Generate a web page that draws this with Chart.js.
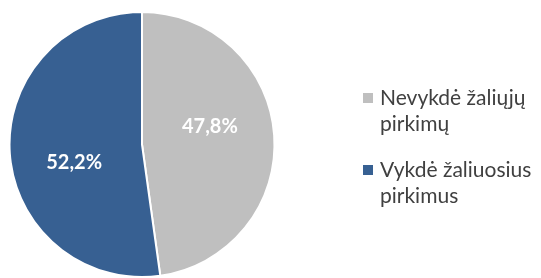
<!DOCTYPE html>
<html>
<head>
<meta charset="utf-8">
<script src="https://cdn.jsdelivr.net/npm/chart.js@4"></script>
<style>
  html, body { margin: 0; padding: 0; background: #fff; }
  #wrap { width: 541px; height: 278px; position: relative; }
</style>
</head>
<body>
<div id="wrap"><canvas id="myChart"></canvas></div>
<script>
const categories = ['Nevykdė žaliųjų pirkimų', 'Vykdė žaliuosius pirkimus']
const shares = [47.8, 52.2]
const sliceColors = ['#BFBFBF', '#376092']

// percent labels inside the slices
const sliceLabels = {
  id: 'sliceLabels',
  afterDatasetsDraw(chart) {
    const c = chart.ctx
    const meta = chart.getDatasetMeta(0)
    c.save()
    c.font = 'bold 20px Lato, "Open Sans", sans-serif'
    c.fillStyle = '#ffffff'
    c.textAlign = 'center'
    c.textBaseline = 'middle'
    meta.data.forEach((arc, i) => {
      // excel puts the labels a bit counter-clockwise of the slice middle
      const mid = (arc.startAngle + arc.endAngle) / 2 - 0.19
      const r = arc.outerRadius * 0.53
      const x = arc.x + Math.cos(mid) * r
      const y = arc.y + Math.sin(mid) * r
      c.fillText(shares[i].toFixed(1).replace('.', ',') + '%', x, y)
    })
    c.restore()
  }
}

// wrapped legend on the right
const sideLegend = {
  id: 'sideLegend',
  afterDraw(chart) {
    const c = chart.ctx
    c.save()
    c.font = '21px Lato, "Open Sans", sans-serif'
    c.textBaseline = 'alphabetic'
    let y = 105
    categories.forEach((name, i) => {
      const words = name.split(' ')
      const lines = []
      let cur = ''
      words.forEach(w => {
        const t = cur ? cur + ' ' + w : w
        if (c.measureText(t).width > 160 && cur) { lines.push(cur); cur = w }
        else cur = t
      })
      lines.push(cur)
      c.fillStyle = sliceColors[i]
      c.fillRect(363, y - 12, 10, 10)
      c.fillStyle = '#404040'
      lines.forEach((ln, j) => c.fillText(ln, 380, y + j * 26))
      y += lines.length * 26 + 20
    })
    c.restore()
  }
}

new Chart(document.getElementById('myChart'), {
  type: 'pie',
  data: {
    labels: categories,
    datasets: [{
      data: shares,
      backgroundColor: sliceColors,
      borderColor: '#ffffff',
      borderWidth: 2
    }]
  },
  options: {
    responsive: true,
    maintainAspectRatio: false,
    animation: false,
    layout: { padding: { left: 8, right: 265, top: 11, bottom: 0 } },
    plugins: {
      legend: { display: false },
      tooltip: { enabled: false }
    }
  },
  plugins: [sliceLabels, sideLegend]
});
</script>
</body>
</html>
